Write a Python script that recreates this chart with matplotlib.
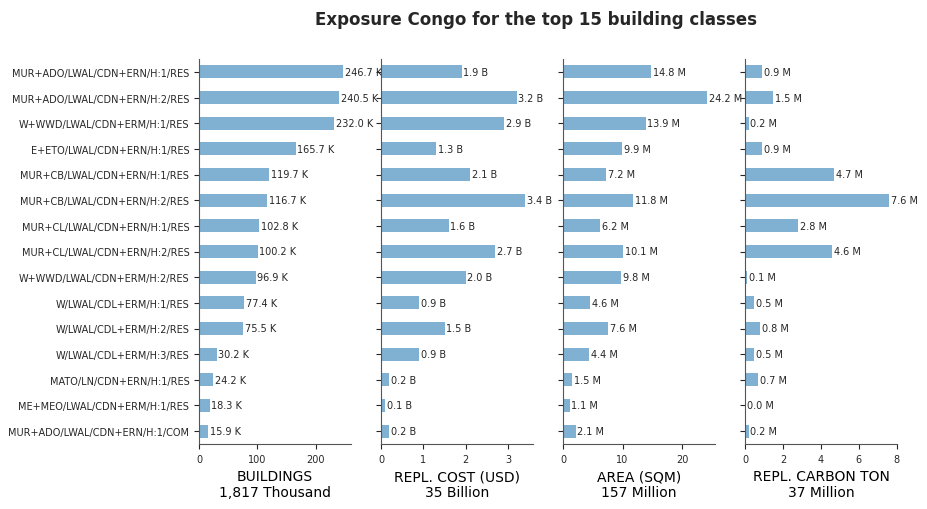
import matplotlib
matplotlib.use('Agg')
import matplotlib.pyplot as plt

classes = [
    'MUR+ADO/LWAL/CDN+ERN/H:1/RES',
    'MUR+ADO/LWAL/CDN+ERN/H:2/RES',
    'W+WWD/LWAL/CDN+ERM/H:1/RES',
    'E+ETO/LWAL/CDN+ERN/H:1/RES',
    'MUR+CB/LWAL/CDN+ERN/H:1/RES',
    'MUR+CB/LWAL/CDN+ERN/H:2/RES',
    'MUR+CL/LWAL/CDN+ERN/H:1/RES',
    'MUR+CL/LWAL/CDN+ERN/H:2/RES',
    'W+WWD/LWAL/CDN+ERM/H:2/RES',
    'W/LWAL/CDL+ERM/H:1/RES',
    'W/LWAL/CDL+ERM/H:2/RES',
    'W/LWAL/CDL+ERM/H:3/RES',
    'MATO/LN/CDN+ERN/H:1/RES',
    'ME+MEO/LWAL/CDN+ERM/H:1/RES',
    'MUR+ADO/LWAL/CDN+ERN/H:1/COM',
]

# thousands of buildings
buildings = [246.7, 240.5, 232.0, 165.7, 119.7, 116.7, 102.8, 100.2, 96.9, 77.4, 75.5, 30.2, 24.2, 18.3, 15.9]
# billion USD
repl_cost = [1.9, 3.2, 2.9, 1.3, 2.1, 3.4, 1.6, 2.7, 2.0, 0.9, 1.5, 0.9, 0.2, 0.1, 0.2]
# million sqm
area = [14.8, 24.2, 13.9, 9.9, 7.2, 11.8, 6.2, 10.1, 9.8, 4.6, 7.6, 4.4, 1.5, 1.1, 2.1]
# million ton
carbon = [0.9, 1.5, 0.2, 0.9, 4.7, 7.6, 2.8, 4.6, 0.1, 0.5, 0.8, 0.5, 0.7, 0.0, 0.2]

panels = [
    (buildings, 'K', 'BUILDINGS\n1,817 Thousand'),
    (repl_cost, 'B', 'REPL. COST (USD)\n35 Billion'),
    (area, 'M', 'AREA (SQM)\n157 Million'),
    (carbon, 'M', 'REPL. CARBON TON\n37 Million'),
]

bar_color = '#80b1d3'
text_color = '#262626'

fig = plt.figure(figsize=(9.27, 5.10), dpi=100)
lefts = [199, 381, 563, 745]
width = 152
bottom = 510 - 445
top = 510 - 60

y = list(range(len(classes)))
for i, (vals, unit, label) in enumerate(panels):
    ax = fig.add_axes([lefts[i] / 927, bottom / 510, width / 927, (top - bottom) / 510])
    ax.barh(y, vals, height=0.5, color=bar_color)
    ax.set_xlim(0, max(vals) * 1.055)
    ax.set_ylim(len(classes) - 0.5, -0.5)
    ax.set_yticks(y)
    if i == 0:
        ax.set_yticklabels(classes, fontsize=7, color=text_color)
    else:
        ax.set_yticklabels([])
    ax.tick_params(axis='x', labelsize=7, colors=text_color)
    ax.tick_params(axis='y', colors=text_color)
    for s in ['top', 'right']:
        ax.spines[s].set_visible(False)
    for s in ['left', 'bottom']:
        ax.spines[s].set_color('#555555')
    for yy, v in zip(y, vals):
        ax.annotate('%.1f %s' % (v, unit), (v, yy), xytext=(1.2, 0),
                    textcoords='offset points', va='center', ha='left',
                    fontsize=7, color=text_color)
    ax.set_xlabel(label, fontsize=10, color='black')

fig.suptitle('Exposure Congo for the top 15 building classes', x=0.578, y=0.978,
             fontsize=12, fontweight='bold', color=text_color)

fig.savefig('out.png', dpi=100)
